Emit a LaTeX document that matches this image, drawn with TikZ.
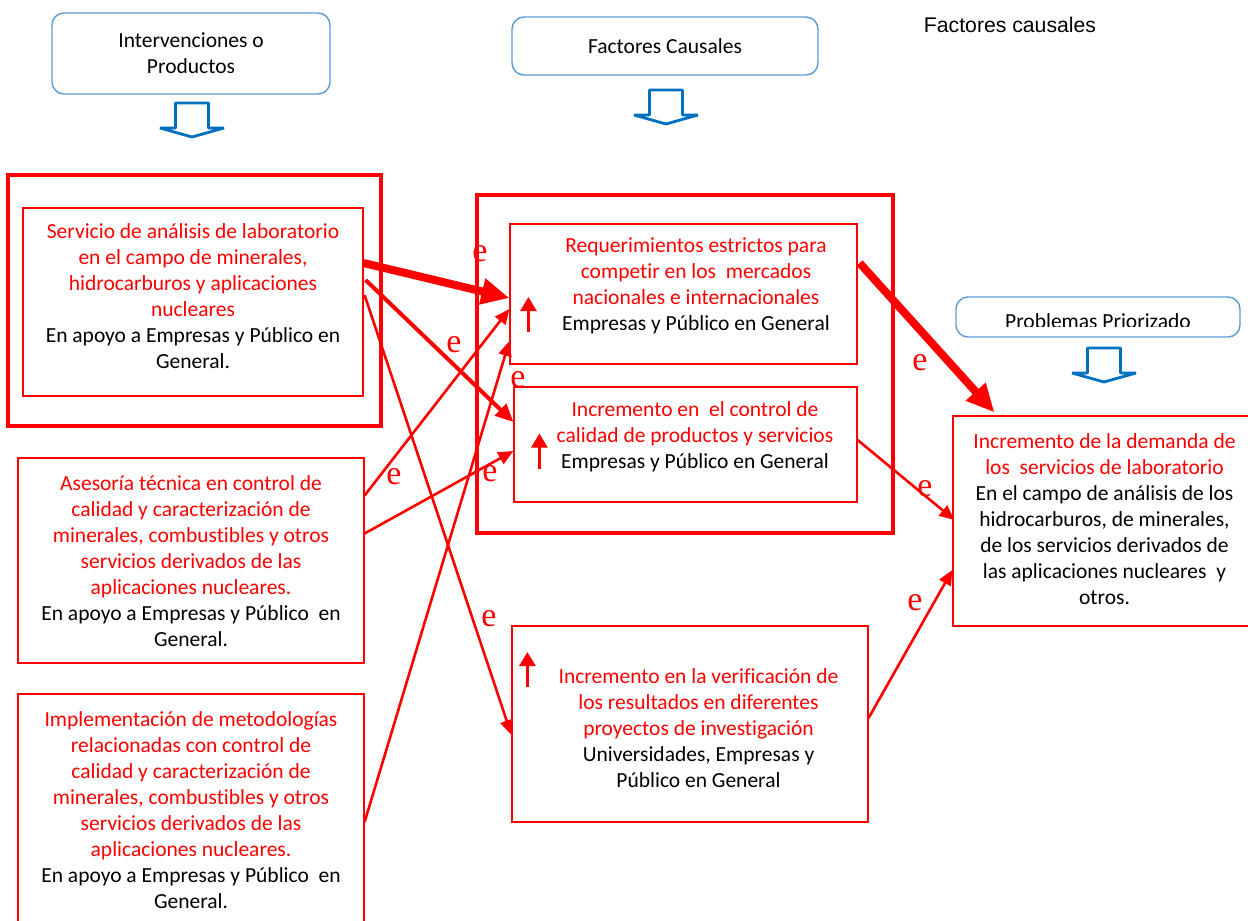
\documentclass[tikz,border=0pt]{standalone}
\usepackage{fontspec}
\setmainfont{Carlito}[RawFeature={-liga;-clig;-calt}]
\newfontfamily\efont{Liberation Serif}
\newfontfamily\arialfont{Liberation Sans}
\usetikzlibrary{arrows.meta,calc}
\definecolor{bblue}{RGB}{91,155,213}
\definecolor{ablue}{RGB}{0,112,192}

\begin{document}
\begin{tikzpicture}[x=0.5pt, y=-0.5pt,
    rbox/.style={draw=red, line width=0.6pt, inner sep=0pt},
    frame/.style={draw=red, line width=1.8pt, inner sep=0pt},
    bbox/.style={draw=bblue, line width=0.7pt, rounded corners=6pt, inner sep=0pt,
      font=\fontsize{10.75}{13}\selectfont, align=center},
    txt/.style={align=center, text=red, inner sep=0pt, font=\fontsize{10.75}{13}\selectfont},
    elab/.style={text=red, inner sep=0pt, font=\efont\fontsize{17}{17}\selectfont},
    link/.style={draw=red, line width=1.3pt, -{Triangle[length=7.5pt,width=6.5pt]}},
    mid/.style={draw=red, line width=2pt, -{Triangle[length=9pt,width=8pt]}},
    heavy/.style={draw=red, line width=4pt, -{Triangle[length=14pt,width=12.5pt]}},
    up/.style={draw=red, line width=1.3pt, -{Triangle[length=7pt,width=8pt]}}]
  \useasboundingbox (0,0) rectangle (1248,921);

  % Headers
  \node[bbox, minimum width=139pt, minimum height=40.5pt] (hInt) at (191,53.5) {Intervenciones o\\Productos};
  \node[bbox, minimum width=153pt, minimum height=29pt] (hFac) at (665,46) {Factores Causales};
  \node[font=\arialfont\fontsize{10.6}{12}\selectfont, inner sep=0pt] (title) at (1010,25) {Factores causales};
  \begin{scope}
    \clip (956,297) rectangle (1240,326);
    \node[txt, text=black, anchor=base] (tProb) at (1098,328) {Problemas Priorizado};
  \end{scope}
  \node[bbox, minimum width=142pt, minimum height=20pt] (hProb) at (1098,317) {};

  % Hollow arrows under headers
  \foreach \cx/\ty in {192/103, 666/90, 1104/348}
    \draw[ablue, line width=1.4pt, line join=bevel]
      (\cx-16.5,\ty) -- (\cx+16.5,\ty) -- (\cx+16.5,\ty+25) -- (\cx+32,\ty+25)
      -- (\cx,\ty+34) -- (\cx-32,\ty+25) -- (\cx-16.5,\ty+25) -- cycle;

  % Products
  \node[frame, minimum width=186.5pt, minimum height=125.5pt] (outA) at (194.5,300.5) {};
  \node[rbox, minimum width=170pt, minimum height=94pt] (A) at (193,302) {};
  \node[txt] (tA) at (193,296) {Servicio de análisis de laboratorio\\en el campo de minerales,\\hidrocarburos y aplicaciones\\nucleares\\
    \color{black}En apoyo a Empresas y Público en\\\color{black}General.};
  \node[rbox, minimum width=173pt, minimum height=102.5pt] (D) at (191,560.5) {};
  \node[txt] (tD) at (191,561) {Asesoría técnica en control de\\calidad y caracterización de\\minerales, combustibles y otros\\servicios derivados de las\\aplicaciones nucleares.\\
    \color{black}En apoyo a Empresas y Público\ \ en\\\color{black}General.};
  \node[rbox, minimum width=173pt, minimum height=125pt] (E) at (191,819) {};
  \node[txt] (tE) at (191,810) {Implementación de metodologías\\relacionadas con control de\\calidad y caracterización de\\minerales, combustibles y otros\\servicios derivados de las\\aplicaciones nucleares.\\
    \color{black}En apoyo a Empresas y Público\ \ en\\\color{black}General.};

  % Causal factors
  \node[frame, minimum width=208pt, minimum height=169pt] (outB) at (685,364) {};
  \node[rbox, minimum width=173.5pt, minimum height=70pt] (B) at (683.5,294) {};
  \node[txt] (tB) at (696,286) {Requerimientos estrictos para\\competir en los\ \ mercados\\nacionales e internacionales\\
    \color{black}Empresas y Público en General};
  \node[rbox, minimum width=171.5pt, minimum height=57.5pt] (C) at (685.5,444.5) {};
  \node[txt] (tC) at (695,437) {Incremento en\ \ el control de\\calidad de productos y servicios\\
    \color{black}Empresas y Público en General};
  \node[rbox, minimum width=178pt, minimum height=98pt] (F) at (690,724) {};
  \node[txt] (tF) at (698.5,728) {Incremento en la verificación de\\los resultados en diferentes\\proyectos de investigación\\
    \color{black}Universidades, Empresas y\\\color{black}Público en General};

  % Problem
  \node[rbox, minimum width=153.5pt, minimum height=105pt] (G) at (1106.5,521) {};
  \node[txt] (tG) at (1104.5,519) {Incremento de la demanda de\\los\ \ servicios de laboratorio\\
    \color{black}En el campo de análisis de los\\\color{black}hidrocarburos, de minerales,\\
    \color{black}de los servicios derivados de\\\color{black}las aplicaciones nucleares\ \ y\\\color{black}otros.};

  % Small up arrows
  \draw[up] ($(B.west)+(19,38)$) -- ($(B.west)+(19,3)$);
  \draw[up] ($(C.west)+(26,24)$) -- ($(C.west)+(26,-11)$);
  \draw[up] ($(F.west)+(16,-37)$) -- ($(F.west)+(16,-72)$);

  % Links
  \draw[heavy] ($(A.east)+(0,-39)$) -- ($(B.west)+(0,4)$);
  \draw[mid] ($(A.east)+(2,-22)$) -- ($(C.west)+(0,-22.5)$);
  \draw[link] ($(A.east)+(1,-7)$) -- ($(F.west)+(0,11)$);
  \draw[link] ($(D.east)+(0,-65)$) -- ($(B.west)+(0,15)$);
  \draw[link] ($(D.east)+(0,-27)$) -- ($(C.west)+(0,6.5)$);
  \draw[link] ($(E.east)+(0,3)$) -- ($(B.west)+(0,47)$);
  \draw[heavy] ($(B.east)+(2,-31)$) -- ($(G.north west)+(42,-3)$);
  \draw[link] ($(C.east)+(0,-4.5)$) -- ($(G.west)+(2,-1)$);
  \draw[link] ($(F.east)+(0,-6)$) -- ($(G.west)+(0,49)$);

  % e labels
  \node[elab] (e1) at (480,254) {e};
  \node[elab] (e2) at (454,345) {e};
  \node[elab] (e3) at (518,380) {e};
  \node[elab] (e4) at (394,477) {e};
  \node[elab] (e5) at (490,474) {e};
  \node[elab] (e6) at (920,363) {e};
  \node[elab] (e7) at (925,489) {e};
  \node[elab] (e8) at (915,603) {e};
  \node[elab] (e9) at (489,619) {e};
\end{tikzpicture}
\end{document}
